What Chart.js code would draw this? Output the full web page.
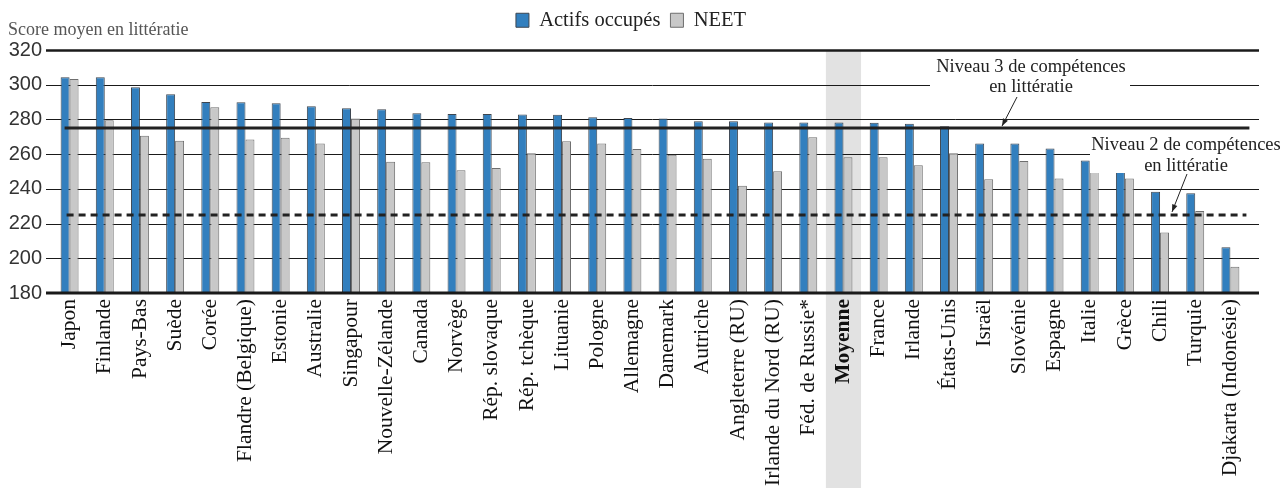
<!DOCTYPE html>
<html lang="fr">
<head>
<meta charset="utf-8">
<title>Score moyen en littératie</title>
<script src="https://cdn.jsdelivr.net/npm/chart.js@4.4.1/dist/chart.umd.min.js"></script>
<style>
  html, body { margin: 0; padding: 0; background: #fff; }
  canvas { display: block; }
</style>
</head>
<body>
<canvas id="chart" width="1282" height="488"></canvas>
<script>
const countries = ['Japon', 'Finlande', 'Pays-Bas', 'Suède', 'Corée', 'Flandre (Belgique)', 'Estonie',
  'Australie', 'Singapour', 'Nouvelle-Zélande', 'Canada', 'Norvège', 'Rép. slovaque', 'Rép. tchèque',
  'Lituanie', 'Pologne', 'Allemagne', 'Danemark', 'Autriche', 'Angleterre (RU)', 'Irlande du Nord (RU)',
  'Féd. de Russie*', 'Moyenne', 'France', 'Irlande', 'États-Unis', 'Israël', 'Slovénie', 'Espagne',
  'Italie', 'Grèce', 'Chili', 'Turquie', 'Djakarta (Indonésie)'];

const employed = [304.3, 304.3, 298.5, 294.5, 290.0, 289.9, 289.3, 287.6, 286.4, 285.8, 283.5, 283.1,
  283.1, 282.9, 282.7, 281.2, 280.8, 280.6, 278.9, 278.9, 278.3, 278.3, 278.3, 278.1, 277.5, 276.0,
  266.2, 266.2, 263.3, 256.4, 252.0, 238.4, 237.4, 206.3];

const neet = [303.3, 279.5, 270.6, 267.7, 287.0, 268.5, 269.5, 266.2, 280.6, 255.6, 255.4, 250.7,
  252.0, 260.5, 267.4, 266.2, 262.9, 259.7, 257.4, 241.8, 250.1, 269.7, 258.2, 258.2, 253.6, 260.5,
  245.5, 256.0, 246.0, 251.0, 246.0, 214.9, 227.2, 195.1];

const yTicks = [180, 200, 220, 240, 260, 280, 300, 320];
const level3 = 275;
const level2 = 225;
const averageLabel = 'Moyenne';

const serif = "'Liberation Serif', 'Times New Roman', serif";
const sans = "'Liberation Sans', Arial, sans-serif";

// la légende garde ses éléments en haut, mais réserve plus de place
const legendSpace = {
  id: 'legendSpace',
  beforeUpdate(chart) {
    const legend = chart.legend;
    if (!legend || legend._patched) return;
    const fit = legend.fit.bind(legend);
    legend.fit = function () {
      fit();
      this.height = 50;
    };
    legend._patched = true;
  }
};

// bande grise derrière la moyenne
const averageBand = {
  id: 'averageBand',
  beforeDraw(chart) {
    const { ctx, chartArea, scales: { x } } = chart;
    const i = countries.indexOf(averageLabel);
    const cx = x.getPixelForValue(i);
    const w = x.width / countries.length;
    ctx.save();
    ctx.fillStyle = '#e2e2e2';
    ctx.fillRect(cx - w / 2, chartArea.top, w, chart.height - chartArea.top);
    ctx.restore();
  }
};

// lignes horizontales, un peu plus longues que la zone du graphique
const gridLines = {
  id: 'gridLines',
  beforeDatasetsDraw(chart) {
    const { ctx, chartArea, scales: { y } } = chart;
    ctx.save();
    ctx.strokeStyle = '#1a1a1a';
    yTicks.forEach(v => {
      if (v === 180) return;
      const py = Math.round(y.getPixelForValue(v)) + 0.5;
      ctx.lineWidth = v === 320 ? 2.5 : 1;
      ctx.beginPath();
      ctx.moveTo(chartArea.left - 6, py);
      ctx.lineTo(chartArea.right + 11, py);
      ctx.stroke();
    });
    ctx.restore();
  },
  afterDatasetsDraw(chart) {
    const { ctx, chartArea, scales: { y } } = chart;
    const py = y.getPixelForValue(180);
    ctx.save();
    ctx.strokeStyle = '#1a1a1a';
    ctx.lineWidth = 3;
    ctx.beginPath();
    ctx.moveTo(chartArea.left - 6, py);
    ctx.lineTo(chartArea.right + 11, py);
    ctx.stroke();
    ctx.restore();
  }
};

function arrow(ctx, x0, y0, x1, y1) {
  const a = Math.atan2(y1 - y0, x1 - x0);
  ctx.beginPath();
  ctx.moveTo(x0, y0);
  ctx.lineTo(x1, y1);
  ctx.stroke();
  ctx.beginPath();
  ctx.moveTo(x1, y1);
  ctx.lineTo(x1 - 8 * Math.cos(a - 0.35), y1 - 8 * Math.sin(a - 0.35));
  ctx.lineTo(x1 - 8 * Math.cos(a + 0.35), y1 - 8 * Math.sin(a + 0.35));
  ctx.closePath();
  ctx.fill();
}

// niveaux de compétences + annotations
const levels = {
  id: 'levels',
  afterDatasetsDraw(chart) {
    const { ctx, scales: { x, y } } = chart;
    const first = x.getPixelForValue(0);
    const last = x.getPixelForValue(countries.length - 1);
    const y3 = y.getPixelForValue(level3);
    const y2 = y.getPixelForValue(level2);

    ctx.save();
    ctx.strokeStyle = '#222';
    ctx.fillStyle = '#222';
    ctx.lineWidth = 3;
    ctx.beginPath();
    ctx.moveTo(first - 5, y3);
    ctx.lineTo(last + 19, y3);
    ctx.stroke();

    ctx.setLineDash([7, 5]);
    ctx.beginPath();
    ctx.moveTo(first - 3, y2);
    ctx.lineTo(last + 16, y2);
    ctx.stroke();
    ctx.setLineDash([]);

    // étiquette niveau 3
    ctx.fillStyle = '#fff';
    ctx.fillRect(930, 56, 200, 40);
    ctx.fillStyle = '#222';
    ctx.font = '18.5px ' + serif;
    ctx.textAlign = 'center';
    ctx.textBaseline = 'middle';
    ctx.fillText('Niveau 3 de compétences', 1031, 67);
    ctx.fillText('en littératie', 1031, 87);
    ctx.lineWidth = 1;
    arrow(ctx, 1017, 97, 1002, y3 - 2);

    // étiquette niveau 2
    ctx.fillStyle = '#fff';
    ctx.fillRect(1090, 135, 192, 38);
    ctx.fillStyle = '#222';
    ctx.fillText('Niveau 2 de compétences', 1186, 145);
    ctx.fillText('en littératie', 1186, 166);
    arrow(ctx, 1187, 174, 1172, y2 - 3);

    // titre de l'axe
    ctx.fillStyle = '#555';
    ctx.font = '18px ' + serif;
    ctx.textAlign = 'left';
    ctx.fillText('Score moyen en littératie', 8, 30);
    ctx.restore();
  }
};

new Chart(document.getElementById('chart'), {
  type: 'bar',
  data: {
    labels: countries,
    datasets: [
      {
        label: 'Actifs occupés',
        data: employed,
        backgroundColor: '#327fbe',
        borderColor: '#3d4650',
        borderWidth: 1,
        categoryPercentage: 0.51,
        barPercentage: 1
      },
      {
        label: 'NEET',
        data: neet,
        backgroundColor: '#c8c8c8',
        borderColor: '#6e6e6e',
        borderWidth: 1,
        categoryPercentage: 0.51,
        barPercentage: 1
      }
    ]
  },
  options: {
    responsive: false,
    animation: false,
    layout: { padding: { top: 0, left: 0, right: 20, bottom: 0 } },
    plugins: {
      legend: {
        position: 'top',
        labels: {
          boxWidth: 13,
          boxHeight: 14,
          padding: 10,
          color: '#222',
          font: { family: serif, size: 20.5 }
        }
      },
      tooltip: { enabled: false }
    },
    scales: {
      x: {
        grid: { display: false, drawTicks: false },
        border: { display: false },
        ticks: {
          autoSkip: false,
          minRotation: 90,
          maxRotation: 90,
          padding: 6,
          color: '#111',
          font: c => ({
            family: serif,
            size: 21.5,
            weight: countries[c.index] === averageLabel ? 'bold' : 'normal'
          })
        },
        afterFit(scale) {
          scale.height = 195;
          scale.paddingRight = 34;
        }
      },
      y: {
        min: 180,
        max: 320,
        grid: { display: false, drawTicks: false },
        border: { display: false },
        ticks: {
          stepSize: 20,
          padding: 10,
          color: '#333',
          font: { family: sans, size: 20 }
        },
        afterFit(scale) {
          scale.width = 52;
        }
      }
    }
  },
  plugins: [legendSpace, averageBand, gridLines, levels]
});
</script>
</body>
</html>
